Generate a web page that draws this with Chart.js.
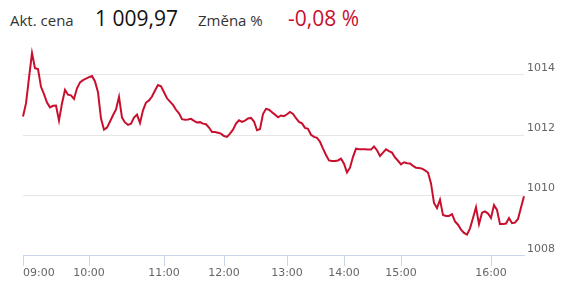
<!DOCTYPE html>
<html>
<head>
<meta charset="utf-8">
<script src="https://cdn.jsdelivr.net/npm/chart.js@4"></script>
<style>
    body { margin: 0; width: 566px; height: 292px; overflow: hidden; background: #fff; }
    .head { position: absolute; top: 4px; left: 10px; display: flex; align-items: baseline; font-family: "Open Sans", sans-serif; color: #333; }
    .lbl { font-size: 15px; }
    .val { font-size: 21px; }
    #chart { position: absolute; left: 0; top: 35px; }
</style>
</head>
<body>
<div class="head">
    <span class="lbl" style="width:85px">Akt. cena</span>
    <span class="val" style="width:103px;color:#111">1 009,97</span>
    <span class="lbl" style="width:90px">Změna %</span>
    <span class="val" style="color:#c8102e">-0,08 %</span>
</div>
<canvas id="chart" width="566" height="256"></canvas>
<script>
// Intraday prices, one value per sample
const prices = [
    1012.62, 1013.05, 1013.90, 1014.72, 1014.22, 1014.19, 1013.60, 1013.36, 1013.08, 1012.92,
    1012.97, 1012.98, 1012.48, 1013.05, 1013.50, 1013.34, 1013.32, 1013.20, 1013.55, 1013.75,
    1013.82, 1013.87, 1013.92, 1013.96, 1013.78, 1013.42, 1012.55, 1012.18, 1012.25, 1012.45,
    1012.66, 1012.85, 1013.27, 1012.58, 1012.42, 1012.34, 1012.38, 1012.58, 1012.68, 1012.40,
    1012.82, 1013.08, 1013.15, 1013.28, 1013.48, 1013.66, 1013.62, 1013.42, 1013.22, 1013.11,
    1013.00, 1012.84, 1012.72, 1012.53, 1012.51, 1012.52, 1012.54, 1012.47, 1012.42, 1012.43,
    1012.38, 1012.36, 1012.25, 1012.10, 1012.10, 1012.08, 1012.05, 1011.97, 1011.94, 1012.05,
    1012.18, 1012.38, 1012.49, 1012.44, 1012.48, 1012.55, 1012.57, 1012.45, 1012.16, 1012.20,
    1012.70, 1012.87, 1012.84, 1012.76, 1012.68, 1012.59, 1012.65, 1012.63, 1012.69, 1012.77,
    1012.70, 1012.56, 1012.44, 1012.39, 1012.24, 1012.21, 1012.01, 1011.94, 1011.91, 1011.78,
    1011.55, 1011.34, 1011.16, 1011.14, 1011.14, 1011.16, 1011.22, 1011.05, 1010.76, 1010.92,
    1011.28, 1011.55, 1011.53, 1011.53, 1011.53, 1011.52, 1011.52, 1011.62, 1011.50, 1011.31,
    1011.42, 1011.53, 1011.47, 1011.42, 1011.26, 1011.15, 1011.03, 1011.10, 1011.07, 1011.06,
    1010.98, 1010.92, 1010.91, 1010.89, 1010.83, 1010.76, 1010.40, 1009.75, 1009.58, 1009.86,
    1009.35, 1009.32, 1009.32, 1009.38, 1009.14, 1009.03, 1008.87, 1008.76, 1008.70, 1008.91,
    1009.25, 1009.61, 1009.05, 1009.43, 1009.47, 1009.40, 1009.25, 1009.68, 1009.52, 1009.05,
    1009.05, 1009.07, 1009.25, 1009.08, 1009.10, 1009.22, 1009.60, 1009.97
];

// Hour labels and the sample where each hour starts
const hourLabels = ['09:00', '10:00', '11:00', '12:00', '13:00', '14:00', '15:00', '16:00'];
const hourIndexes = [0, 22, 47, 67, 88, 107, 126, 156];

// Y axis range
const yMin = 1008;
const yMax = 1015;
const yStep = 2;

const labels = prices.map(() => '');
hourIndexes.forEach((idx, i) => { labels[idx] = hourLabels[i]; });

const axisFont = { family: '"DejaVu Sans", sans-serif', size: 11 };

new Chart(document.getElementById('chart'), {
    type: 'line',
    data: {
        labels: labels,
        datasets: [{
            data: prices,
            borderColor: '#c8102e',
            borderWidth: 2,
            pointRadius: 0,
            tension: 0,
            fill: false
        }]
    },
    options: {
        responsive: false,
        animation: false,
        events: [],
        layout: { padding: { left: 23, right: 8, top: 8, bottom: 10 } },
        plugins: { legend: { display: false }, tooltip: { enabled: false } },
        scales: {
            x: {
                type: 'category',
                offset: false,
                grid: {
                    drawOnChartArea: false,
                    drawTicks: true,
                    tickLength: 10,
                    tickColor: ctx => (ctx.tick && ctx.tick.label) ? '#ccd6eb' : 'rgba(0,0,0,0)'
                },
                border: { display: true, color: '#ccd6eb', width: 1 },
                ticks: {
                    autoSkip: false,
                    maxRotation: 0,
                    minRotation: 0,
                    align: 'inner',
                    padding: 1,
                    color: '#666',
                    font: axisFont
                }
            },
            y: {
                position: 'right',
                min: yMin,
                max: yMax,
                grid: { color: '#e6e6e6', drawTicks: false },
                border: { display: false },
                ticks: {
                    stepSize: yStep,
                    includeBounds: false,
                    padding: 3,
                    labelOffset: -7,
                    color: '#666',
                    font: axisFont,
                    callback: v => String(v)
                }
            }
        }
    }
});
</script>
</body>
</html>
